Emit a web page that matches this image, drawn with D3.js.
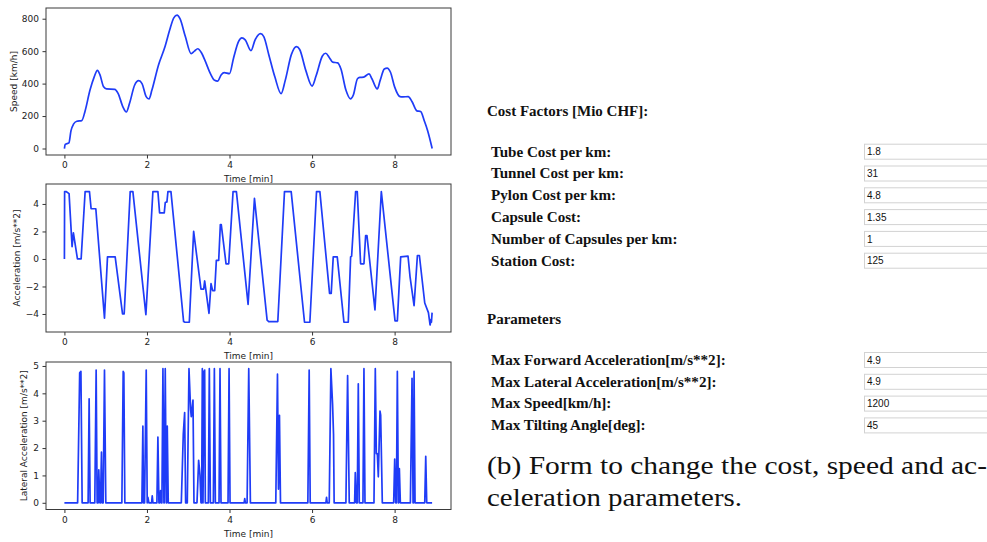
<!DOCTYPE html>
<html><head><meta charset="utf-8">
<script src="https://cdn.jsdelivr.net/npm/d3@7/dist/d3.min.js"></script>
<style>body{margin:0;background:#fff;} svg{display:block}</style>
</head><body><svg id="c" width="987" height="542"></svg>
<script>
// ---------- data ----------
const speedTime = [0,0.02,0.11,0.16,0.22,0.30,0.42,0.50,0.62,0.72,0.80,0.86,0.95,1.02,1.22,1.30,1.42,1.50,1.58,1.70,1.80,1.88,1.98,2.05,2.12,2.28,2.44,2.55,2.65,2.73,2.80,2.93,3.07,3.15,3.23,3.32,3.41,3.54,3.64,3.71,3.80,3.87,4.00,4.10,4.22,4.30,4.38,4.52,4.62,4.75,4.83,4.95,5.10,5.25,5.35,5.50,5.62,5.70,5.85,6.00,6.10,6.25,6.33,6.42,6.50,6.62,6.70,6.82,6.93,7.00,7.10,7.16,7.25,7.38,7.45,7.58,7.65,7.75,7.82,7.90,8.00,8.13,8.20,8.33,8.42,8.54,8.63,8.72,8.80,8.91];
const speedValues = [0,25,35,110,150,168,172,230,360,440,482,455,380,367,365,340,255,225,280,390,418,400,320,305,360,515,630,730,805,822,800,690,585,600,615,590,540,460,420,415,455,468,462,560,660,682,670,603,670,708,690,580,440,338,420,580,628,610,480,385,450,570,587,560,532,528,490,360,306,330,430,438,440,460,430,367,420,490,496,470,380,320,318,320,290,232,228,170,110,0];

const accelTime = [0,0.005,0.04,0.113,0.186,0.218,0.316,0.405,0.502,0.607,0.647,0.761,0.971,1.044,1.230,1.408,1.448,1.594,1.659,1.974,2.144,2.265,2.306,2.419,2.443,2.484,2.508,2.581,2.888,2.92,3.026,3.131,3.309,3.374,3.398,3.503,3.552,3.592,3.641,3.681,3.738,3.778,3.80,3.916,3.981,4.086,4.167,4.450,4.604,4.911,4.95,5.170,5.332,5.494,5.817,5.947,6.108,6.189,6.424,6.464,6.513,6.610,6.772,6.877,6.934,6.958,7.055,7.095,7.176,7.257,7.298,7.330,7.524,7.678,8.010,8.066,8.147,8.325,8.374,8.471,8.552,8.600,8.730,8.819,8.859,8.884,8.892,8.908];
const accelValues = [0,4.9,4.9,4.75,0.9,1.9,0,0,4.9,4.9,3.65,3.65,-4.3,0.15,0.15,-4.0,-4.0,4.9,4.9,-4.05,4.9,4.9,3.35,3.35,4.1,4.15,4.9,4.9,-4.55,-4.6,-4.6,2.0,-2.2,-2.2,-1.6,-3.95,-1.8,-2.3,-2.3,-0.1,-0.1,2.5,2.5,-0.35,-0.35,4.9,4.9,-3.3,4.4,-4.45,-4.55,-4.55,4.9,4.9,-4.6,-4.6,4.9,4.9,-2.5,-2.5,0.15,0.15,-4.6,-4.6,0.15,0.2,4.9,4.9,-0.35,-0.35,1.7,1.7,-3.7,4.9,-4.5,-4.5,0.15,0.2,-1.3,-3.4,0.25,0.25,-3.2,-3.9,-4.8,-4.4,-4.6,-3.9];

const latTime = [0,0.32,0.37,0.40,0.43,0.574,0.599,0.623,0.736,0.769,0.793,0.817,0.833,0.858,0.874,0.898,0.914,0.939,0.971,1.003,1.392,1.424,1.440,1.464,1.877,1.901,1.917,1.942,1.982,2.006,2.023,2.047,2.112,2.128,2.144,2.241,2.265,2.290,2.314,2.330,2.346,2.362,2.387,2.411,2.419,2.443,2.468,2.476,2.492,2.516,2.832,2.880,2.913,2.937,2.977,3.018,3.058,3.074,3.115,3.139,3.212,3.252,3.285,3.309,3.325,3.341,3.358,3.382,3.398,3.414,3.487,3.511,3.536,3.608,3.633,3.657,3.746,3.770,3.794,3.964,3.989,4.013,4.353,4.369,4.385,4.426,4.466,4.506,5.121,5.162,5.186,5.210,5.235,5.898,5.930,5.955,6.335,6.351,6.367,6.416,6.456,6.497,6.520,6.535,6.820,6.861,6.901,7.031,7.047,7.071,7.095,7.120,7.144,7.233,7.257,7.282,7.500,7.532,7.557,7.581,7.605,7.646,7.662,7.702,7.977,8.002,8.026,8.043,8.066,8.091,8.099,8.115,8.139,8.382,8.422,8.447,8.455,8.471,8.495,8.730,8.754,8.778,8.908];
const latValues = [0,0,4.75,4.8,0,0,3.8,0,0,4.85,0,0,1.2,0,0,1.85,0,0,4.85,0,0,4.8,4.75,0,0,2.8,0,0,4.85,0,0.2,0,0,0.25,0,0,2.4,0,0,0.45,0,0,4.9,0,0,4.9,0,0,2.8,0,0,2.5,3.3,0,0,4.9,3.4,3.15,3.75,0,0,1.55,1.0,0,0,4.9,0,4.8,4.85,0,0,4.9,0,0,4.9,0,0,4.9,0,0,4.9,0,0,0.15,0,0,4.9,0,0,4.7,0.5,3.2,0,0,4.85,0,0,0.2,0,0,4.9,3.6,2.5,0,0,4.65,0,0,1.1,0,0,4.35,0,0,4.9,0,0,4.9,1.8,1.8,0.95,3.35,3.2,0,0,1.6,0,0,4.8,0,0,1.25,0,0,4.55,0,0,4.8,0,0,1.7,0,0];

const timeTicks = [0,2,4,6,8];
const speedTicks = [0,200,400,600,800];
const accelTicks = [-4,-2,0,2,4];
const latTicks = [0,1,2,3,4,5];

const costLabels = ["Tube Cost per km:","Tunnel Cost per km:","Pylon Cost per km:","Capsule Cost:","Number of Capsules per km:","Station Cost:"];
const costValues = ["1.8","31","4.8","1.35","1","125"];
const paramLabels = ["Max Forward Acceleration[m/s**2]:","Max Lateral Acceleration[m/s**2]:","Max Speed[km/h]:","Max Tilting Angle[deg]:"];
const paramValues = ["4.9","4.9","1200","45"];
const captionLines = ["(b) Form to change the cost, speed and ac-","celeration parameters."];

// ---------- charts ----------
const svg = d3.select("#c");
const LINE = "#1f3cf7";
const x = d3.scaleLinear().domain([-0.446, 9.366]).range([46, 451]);
const fmt = d => d < 0 ? "\u2212" + Math.abs(d) : String(d);

const panels = [
  {t: speedTime, v: speedValues, top: 8, bottom: 155, domain: [-40, 866], ticks: speedTicks, label: "Speed [km/h]", lx: 14, curve: d3.curveMonotoneX},
  {t: accelTime, v: accelValues, top: 184, bottom: 332, domain: [-5.31, 5.45], ticks: accelTicks, label: "Acceleration [m/s**2]", lx: 17, curve: d3.curveLinear},
  {t: latTime, v: latValues, top: 362, bottom: 509.5, domain: [-0.245, 5.145], ticks: latTicks, label: "Lateral Acceleration [m/s**2]", lx: 24, curve: d3.curveLinear}
];

panels.forEach(p => {
  const y = d3.scaleLinear().domain(p.domain).range([p.bottom, p.top]);
  const g = svg.append("g");
  const data = p.t.map((t, i) => [t, p.v[i]]);
  g.append("path").datum(data)
    .attr("fill", "none").attr("stroke", LINE).attr("stroke-width", 1.7)
    .attr("stroke-linejoin", "round")
    .attr("d", d3.line().x(d => x(d[0])).y(d => y(d[1])).curve(p.curve));

  const ya = g.append("g").attr("transform", `translate(46,0)`)
    .call(d3.axisLeft(y).tickValues(p.ticks).tickSize(3.5).tickPadding(3.5).tickFormat(fmt));
  const xa = g.append("g").attr("transform", `translate(0,${p.bottom})`)
    .call(d3.axisBottom(x).tickValues(timeTicks).tickSize(3.5).tickPadding(3.5).tickFormat(fmt));
  [ya, xa].forEach(a => {
    a.select(".domain").remove();
    a.selectAll("line").attr("stroke", "#333");
    a.selectAll("text").attr("font-family", "DejaVu Sans").attr("font-size", 9).attr("fill", "#222");
  });
  g.append("rect").attr("x", 46).attr("y", p.top).attr("width", 405).attr("height", p.bottom - p.top)
    .attr("fill", "none").attr("stroke", "#3a3a3a").attr("stroke-width", 1);

  g.append("text").attr("x", 248.5).attr("y", p.bottom + 27)
    .attr("text-anchor", "middle").attr("font-family", "DejaVu Sans").attr("font-size", 9).attr("fill", "#222")
    .text("Time [min]");
  g.append("text").attr("transform", `translate(${p.lx},${(p.top + p.bottom) / 2}) rotate(-90)`)
    .attr("text-anchor", "middle").attr("dy", "0.35em")
    .attr("font-family", "DejaVu Sans").attr("font-size", 9).attr("fill", "#222")
    .text(p.label);
});

// ---------- form ----------
const form = svg.append("g");
function section(header, headerBase, labels, values, firstBase) {
  form.append("text").attr("x", 487).attr("y", headerBase)
    .attr("font-family", "'Liberation Serif', 'Times New Roman', serif").attr("font-weight", "bold").attr("font-size", 15).attr("fill", "#111")
    .text(header);
  labels.forEach((l, i) => {
    const base = firstBase + i * 21.8;
    const cy = base - 4.8;
    form.append("text").attr("x", 491).attr("y", base)
      .attr("font-family", "'Liberation Serif', 'Times New Roman', serif").attr("font-weight", "bold").attr("font-size", 15.1).attr("fill", "#111")
      .text(l);
    form.append("rect").attr("x", 864.5).attr("y", cy - 7.5).attr("width", 140).attr("height", 15)
      .attr("fill", "#fff").attr("stroke", "#d2d2d2").attr("stroke-width", 1);
    form.append("text").attr("x", 867).attr("y", cy + 3.6)
      .attr("font-family", "'Liberation Sans', Arial, sans-serif").attr("font-size", 10).attr("fill", "#111")
      .text(values[i]);
  });
}
section("Cost Factors [Mio CHF]:", 115.5, costLabels, costValues, 156.5);
section("Parameters", 323.5, paramLabels, paramValues, 364.8);

const capW = [500, 255];
captionLines.forEach((c, i) => {
  svg.append("text").attr("x", 487).attr("y", 474 + i * 32)
    .attr("font-family", "'Liberation Serif', 'Times New Roman', serif").attr("font-size", 25).attr("fill", "#111")
    .attr("textLength", capW[i]).attr("lengthAdjust", "spacingAndGlyphs")
    .text(c);
});
</script>
</body></html>
